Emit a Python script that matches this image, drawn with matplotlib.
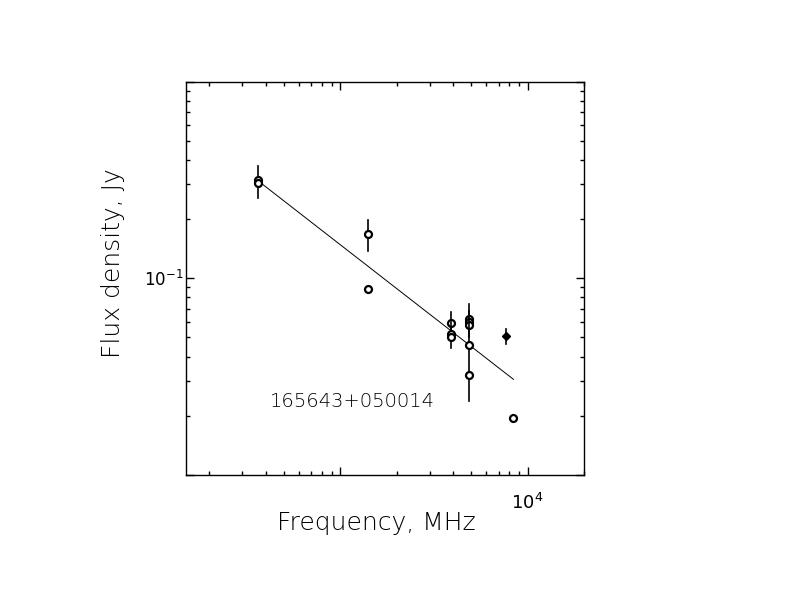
#!/usr/bin/env python
"""Radio spectrum of 165643+050014: flux density against frequency, log-log, with power-law fit."""

import matplotlib
matplotlib.use("Agg")
import matplotlib.pyplot as plt
import numpy as np
from matplotlib.ticker import FixedLocator, FixedFormatter, LogLocator, NullFormatter

# Measurements (MHz, Jy)
freq = [365, 365, 1400, 1400, 3900, 3900, 3900, 4850, 4850, 4850, 4850, 4850, 7700, 8400]
flux = [0.315, 0.305, 0.167, 0.0878, 0.059, 0.052, 0.050, 0.062, 0.060, 0.058, 0.0459, 0.0321, 0.051, 0.0194]
flux_err = [0.058, 0, 0.030, 0, 0.008, 0.008, 0, 0.012, 0, 0, 0.022, 0, 0.0045, 0]
filled = [False] * 12 + [True, False]

# Power-law fit S = fit_amp * (nu / 1000 MHz) ** fit_index
fit_amp = 0.148
fit_index = -0.74
fit_range = [365, 8400]

source_name = "165643+050014"

plt.rcParams['font.family'] = ['DejaVu Sans']
plt.rcParams['mathtext.fontset'] = 'dejavusans'

fig = plt.figure(figsize=(7.92, 6.12), dpi=100)
ax = fig.add_axes([186 / 792, 1 - 475 / 612, 398 / 792, 393.5 / 612])
ax.set_xscale('log')
ax.set_yscale('log')
ax.set_xlim(150, 20000)
ax.set_ylim(0.01, 1.0)

# fit line
nu = np.array(fit_range, dtype=float)
ax.plot(nu, fit_amp * (nu / 1000.0) ** fit_index, color='black', lw=0.7)

# data points
for f, s, e, fill in zip(freq, flux, flux_err, filled):
    if e > 0:
        ax.plot([f, f], [s - e, s + e], color='black', lw=1.2)
    if fill:
        ax.plot(f, s, marker='D', ms=4, color='black', mew=1)
    else:
        ax.plot(f, s, marker='o', ms=5, mfc='white', mec='black', mew=1.6)

# ticks: inward on every side, PGPLOT-like
ax.xaxis.set_major_locator(FixedLocator([1000, 10000]))
ax.xaxis.set_major_formatter(FixedFormatter(['', r'$\mathregular{10^{4}}$']))
ax.xaxis.set_minor_locator(LogLocator(base=10, subs=np.arange(2, 10)))
ax.xaxis.set_minor_formatter(NullFormatter())
ax.yaxis.set_major_locator(FixedLocator([0.01, 0.1, 1.0]))
ax.yaxis.set_major_formatter(FixedFormatter(['', r'$\mathregular{10^{-1}}$', '']))
ax.yaxis.set_minor_locator(LogLocator(base=10, subs=np.arange(2, 10)))
ax.yaxis.set_minor_formatter(NullFormatter())

ax.tick_params(which='both', direction='in', top=True, right=True, width=1.0)
ax.tick_params(which='major', length=5.5)
ax.tick_params(which='minor', length=3)
ax.tick_params(axis='x', which='major', pad=13, labelsize=13)
ax.tick_params(axis='y', which='major', pad=2, labelsize=12)
for label in ax.get_xticklabels():
    label.set_x(label.get_position()[0])
for spine in ax.spines.values():
    spine.set_linewidth(1.0)

ax.text(0.417, 0.186, source_name, transform=ax.transAxes,
        ha='center', va='center', fontsize=14, fontweight='light', color='black')

fig.text(376 / 792, 1 - 523 / 612, "Frequency, MHz",
         ha='center', va='center', fontsize=18, fontweight='light', color='black')
fig.text(113 / 792, 1 - 263 / 612, "Flux density, Jy", rotation=90,
         ha='center', va='center', fontsize=18, fontweight='light', color='black')

fig.savefig("out.png", dpi=100)
